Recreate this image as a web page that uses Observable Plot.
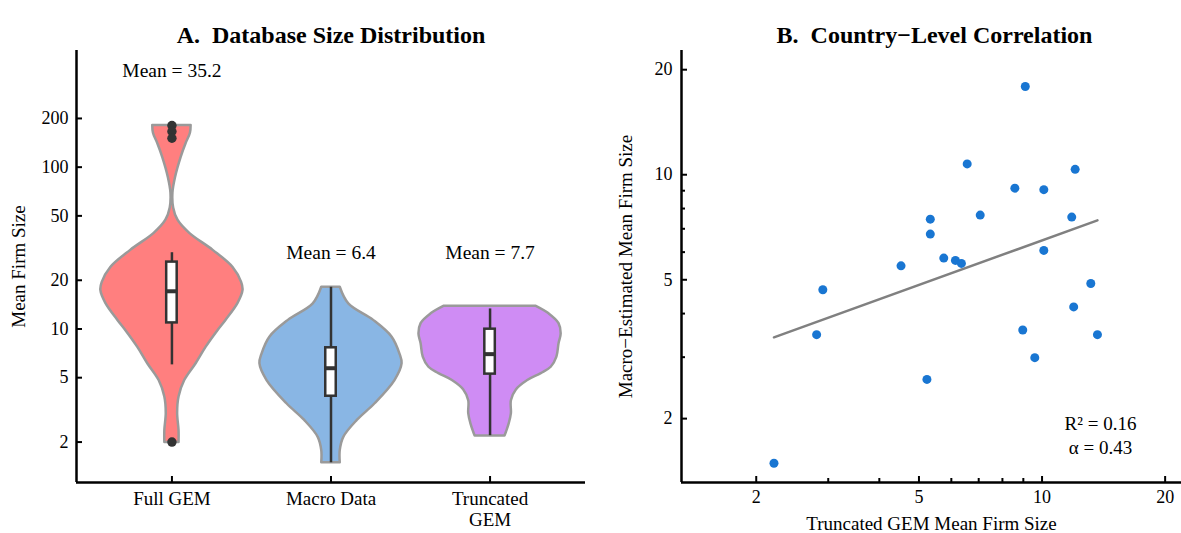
<!DOCTYPE html>
<html><head><meta charset="utf-8">
<script src="https://cdn.jsdelivr.net/npm/d3@7"></script>
<script src="https://cdn.jsdelivr.net/npm/@observablehq/plot@0.6"></script>
<style>
body{margin:0;background:#fff}
#wrap{display:flex;width:1181px;height:533px;overflow:hidden}
</style>
</head><body><div id="wrap"></div>
<script>
// ---------- Panel A data ----------
const categories = ["Full GEM", "Macro Data", "Truncated\nGEM"];
// violin outlines: [value, relative density]
const violinFullGEM = [[181,0.27],[162,0.26],[140,0.20],[115,0.13],[86,0.05],[69,0.014],[56,0.024],[47,0.085],[39,0.25],[30.6,0.58],[24,0.86],[19.4,0.98],[17.3,1.0],[14.4,0.93],[11.3,0.76],[9.8,0.65],[7.7,0.48],[6.1,0.34],[4.8,0.18],[3.8,0.10],[3.0,0.08],[2.36,0.10],[1.99,0.10]];
const violinMacro = [[18.1,0.13],[14.3,0.25],[11.3,0.60],[8.9,0.86],[7.0,0.97],[6.1,1.0],[4.8,0.90],[3.45,0.62],[2.72,0.37],[2.14,0.18],[1.77,0.13],[1.49,0.13]];
const violinTruncated = [[13.8,0.65],[12.4,0.83],[10.8,0.97],[9.3,1.0],[8.1,0.97],[6.7,0.94],[5.8,0.86],[5.3,0.72],[4.8,0.53],[4.2,0.37],[3.6,0.30],[3.0,0.30],[2.6,0.27],[2.3,0.23],[2.18,0.21]];
const boxLow = [6.0, 1.49, 2.19];
const boxQ1 = [10.9, 3.84, 5.26];
const boxMedian = [17.1, 5.72, 6.99];
const boxQ3 = [25.9, 7.65, 9.97];
const boxHigh = [29.6, 18.1, 13.3];
const outlierValues = [181, 166, 151, 2.0];
const outlierGroup = [0, 0, 0, 0];
const means = [35.2, 6.4, 7.7];
const meanLabelY = [396, 29.7, 29.7];
const fillColors = ["#ff7f7f", "#89b6e4", "#cf8cf4"];
const yTicksA = [2, 5, 10, 20, 50, 100, 200];

// ---------- Panel B data ----------
const truncatedGEM = [9.10, 6.56, 12.05, 8.58, 10.1, 7.06, 11.82, 5.33, 5.33, 5.75, 6.14, 6.35, 10.1, 4.52, 2.91, 13.16, 11.95, 2.81, 8.97, 13.66, 9.6, 5.23, 2.21];
const macroEstimated = [17.9, 10.74, 10.36, 9.15, 9.06, 7.66, 7.56, 7.46, 6.76, 5.77, 5.68, 5.57, 6.07, 5.48, 4.68, 4.88, 4.18, 3.48, 3.59, 3.48, 2.99, 2.59, 1.49];
const fitX = [2.21, 13.66];
const fitY = [3.42, 7.40];
const ticksB = [2, 5, 10, 20];
const minorTicksB = [3, 4, 6, 7, 8, 9];

const FONT = "'Liberation Serif', 'Times New Roman', serif";
const HW = 0.447;      // violin max half-width (x units)
const BHW = 0.033;     // box half-width

// ---------- Panel A ----------
const violins = [violinFullGEM, violinMacro, violinTruncated];
const boxes = categories.map((c, i) => ({i, lo: boxLow[i], q1: boxQ1[i], med: boxMedian[i], q3: boxQ3[i], hi: boxHigh[i]}));
const outliers = outlierValues.map((v, k) => ({i: outlierGroup[k], v}));
const meanRows = means.map((m, i) => ({i, y: meanLabelY[i], t: `Mean = ${m}`}));

const marksA = [];
violins.forEach((prof, i) => {
  const rows = prof.map(([v, d]) => ({v, d}));
  marksA.push(Plot.areaX(rows, {
    y: "v", x1: r => i - r.d * HW, x2: r => i + r.d * HW,
    fill: fillColors[i], stroke: "#9a9a9a", strokeWidth: 2.5, curve: "catmull-rom"
  }));
});
marksA.push(
  Plot.ruleX(boxes, {x: "i", y1: "lo", y2: "hi", stroke: "#333", strokeWidth: 2.5}),
  Plot.rect(boxes, {x1: d => d.i - BHW, x2: d => d.i + BHW, y1: "q1", y2: "q3", fill: "white", stroke: "#333", strokeWidth: 2.5}),
  Plot.ruleY(boxes, {y: "med", x1: d => d.i - BHW, x2: d => d.i + BHW, stroke: "#333", strokeWidth: 4}),
  Plot.dot(outliers, {x: "i", y: "v", r: 4.7, fill: "#333", stroke: "none"}),
  Plot.text(meanRows, {x: "i", y: "y", text: "t", fontSize: 19.5, fill: "black"}),
  Plot.axisY(yTicksA, {tickFormat: d => String(d), tickSize: -6, tickPadding: 14, fontSize: 18, strokeWidth: 2, stroke: "black", label: null}),
  Plot.axisX([0, 1, 2], {tickFormat: i => categories[i], tickSize: -6, tickPadding: 14, fontSize: 19, lineHeight: 1.1, strokeWidth: 2, stroke: "black", label: null}),
  Plot.ruleX([-0.6], {stroke: "black", strokeWidth: 2.5}),
  Plot.ruleY([1.125], {stroke: "black", strokeWidth: 2.5}),
  Plot.text(["Mean Firm Size"], {frameAnchor: "left", textAnchor: "middle", rotate: -90, dx: -58, fontSize: 19, fill: "black"}),
  Plot.text(["A.\u00a0 Database Size Distribution"], {frameAnchor: "top", dy: -25, fontSize: 24, fontWeight: "bold", fill: "black"})
);

const plotA = Plot.plot({
  width: 590, height: 533,
  marginLeft: 76, marginRight: 5, marginTop: 50, marginBottom: 51,
  x: {type: "linear", domain: [-0.6, 2.6], axis: null},
  y: {type: "log", domain: [1.125, 526], axis: null},
  style: {fontFamily: FONT, fontSize: "18px", color: "black", background: "white", overflow: "visible"},
  marks: marksA
});

// ---------- Panel B ----------
const points = truncatedGEM.map((x, k) => ({x, y: macroEstimated[k]}));
const fit = fitX.map((x, k) => ({x, y: fitY[k]}));

const plotB = Plot.plot({
  width: 591, height: 533,
  marginLeft: 91, marginRight: 0, marginTop: 50, marginBottom: 51,
  x: {type: "log", domain: [1.313, 21.93], axis: null},
  y: {type: "log", domain: [1.312, 22.7], axis: null},
  style: {fontFamily: FONT, fontSize: "18px", color: "black", background: "white", overflow: "visible"},
  marks: [
    Plot.line(fit, {x: "x", y: "y", stroke: "#808080", strokeWidth: 2.5}),
    Plot.dot(points, {x: "x", y: "y", r: 4.5, fill: "#1976d2", stroke: "none"}),
    Plot.axisY(ticksB, {tickFormat: d => String(d), tickSize: -6, tickPadding: 15, fontSize: 18, strokeWidth: 2, stroke: "black", label: null}),
    Plot.axisY(minorTicksB, {tickFormat: () => "", tickSize: -4, strokeWidth: 2, stroke: "black", label: null}),
    Plot.axisX(ticksB, {tickFormat: d => String(d), tickSize: -6, tickPadding: 14, fontSize: 18, strokeWidth: 2, stroke: "black", label: null}),
    Plot.axisX(minorTicksB, {tickFormat: () => "", tickSize: -4, strokeWidth: 2, stroke: "black", label: null}),
    Plot.ruleX([1.313], {stroke: "black", strokeWidth: 2.5}),
    Plot.ruleY([1.312], {stroke: "black", strokeWidth: 2.5}),
    Plot.text(["R\u00b2 = 0.16"], {frameAnchor: "bottom-right", textAnchor: "middle", dx: -81, dy: -53, fontSize: 19, fill: "black"}),
    Plot.text(["\u03b1 = 0.43"], {frameAnchor: "bottom-right", textAnchor: "middle", dx: -81, dy: -29, fontSize: 19, fill: "black"}),
    Plot.text(["Macro\u2212Estimated Mean Firm Size"], {frameAnchor: "left", textAnchor: "middle", rotate: -90, dx: -56, fontSize: 19, fill: "black"}),
    Plot.text(["Truncated GEM Mean Firm Size"], {frameAnchor: "bottom", dy: 47, fontSize: 19, fill: "black"}),
    Plot.text(["B.\u00a0 Country\u2212Level Correlation"], {frameAnchor: "top", dx: 3, dy: -25, fontSize: 24, fontWeight: "bold", fill: "black"})
  ]
});

const wrap = document.getElementById("wrap");
wrap.appendChild(plotA);
wrap.appendChild(plotB);
</script>
</body></html>
